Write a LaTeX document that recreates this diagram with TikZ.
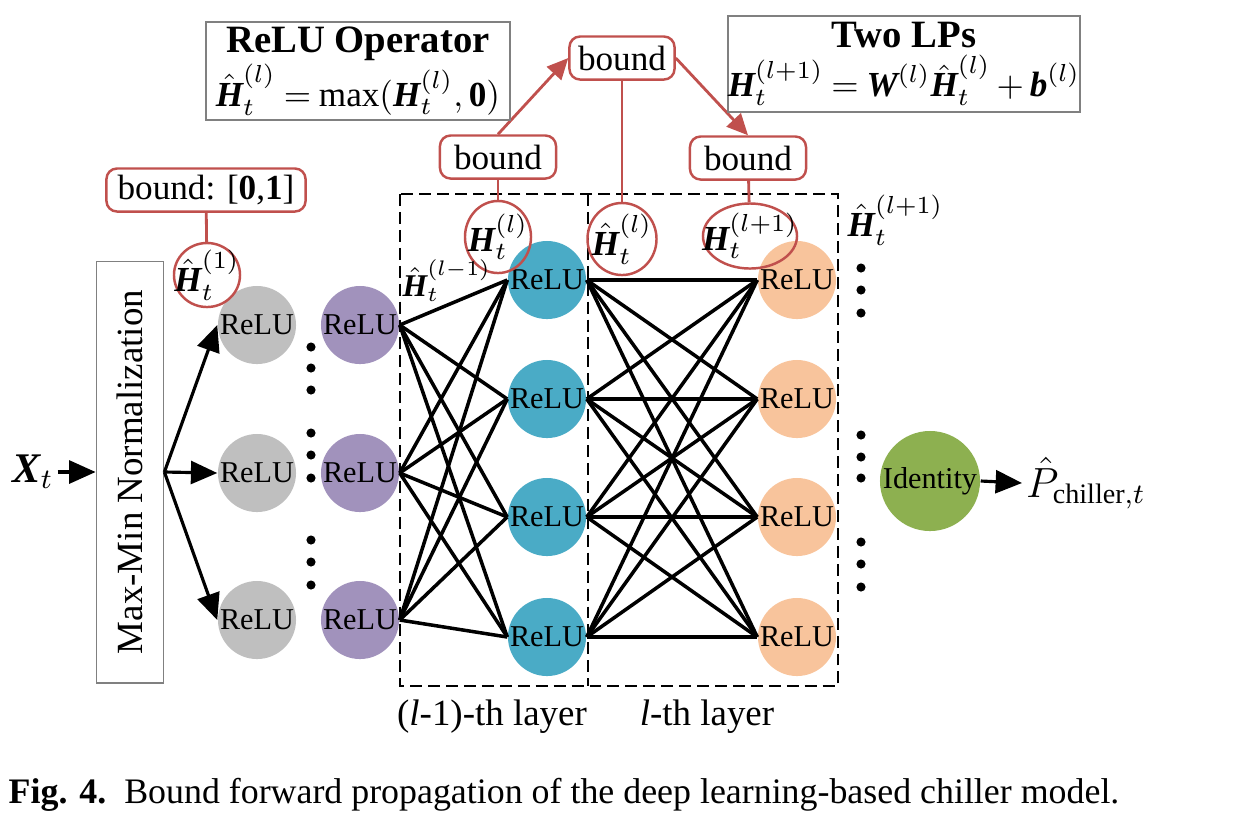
\documentclass[tikz,border=0pt]{standalone}
\usepackage{amsmath}
\usepackage[no-math]{fontspec}
\setmainfont{Liberation Serif}
\usetikzlibrary{arrows.meta,shapes.geometric}

\definecolor{boundred}{RGB}{192,80,77}
\definecolor{boxgray}{RGB}{128,128,128}
\definecolor{inGray}{RGB}{191,191,191}
\definecolor{inPurple}{RGB}{161,146,188}
\definecolor{hidTeal}{RGB}{74,171,198}
\definecolor{hidOrange}{RGB}{248,196,156}
\definecolor{outGreen}{RGB}{141,176,80}

% bold italic letters in the text font
\newcommand{\bv}[1]{\text{\normalfont\bfseries\itshape #1}}
\newcommand{\hH}{\hat{\bv{H}}}
\newcommand{\eqsize}{\fontsize{10}{12}\selectfont\thickmuskip=4mu \medmuskip=3mu }

\begin{document}
\begin{tikzpicture}[x=0.01cm,y=-0.01cm,
  neuron/.style={circle,minimum size=0.78cm,inner sep=0pt},
  relu/.style={neuron,label={[font=\fontsize{8.6}{10}\selectfont]center:ReLU}},
  ring/.style={ellipse,draw=boundred,line width=0.7pt,inner sep=0pt},
  ringtext/.style={font=\fontsize{10}{12}\selectfont,inner sep=0pt},
  boundbox/.style={draw=boundred,line width=0.7pt,rounded corners=3pt,
    inner sep=0pt,minimum height=0.43cm,font=\fontsize{10}{12}\selectfont},
  opbox/.style={draw=boxgray,line width=0.6pt,align=center,inner sep=0pt,
    font=\fontsize{11}{14}\selectfont},
  layerbox/.style={dash pattern=on 3.4pt off 1.7pt,line width=0.6pt},
  edge/.style={line width=1pt},
  blackarrow/.style={line width=0.9pt,-{Triangle[length=7.5pt,width=6.5pt]}},
  redarrow/.style={draw=boundred,line width=0.8pt,-{Triangle[length=6pt,width=5.5pt]}},
  redline/.style={draw=boundred,line width=0.8pt}]

\useasboundingbox (0,0) rectangle (1251,838);

% layer frames
\draw[layerbox] (400,194) rectangle (838,686);
\draw[layerbox] (588,194) -- (588,686);

% input and normalization
\node (xt) [inner sep=1pt] at (33,472) {\fontsize{12}{14}\selectfont$\bv{X}_t$};
\node (mm) [draw=boxgray,line width=0.5pt,minimum width=4.21cm,minimum height=0.67cm,
  rotate=90,inner sep=0pt,font=\fontsize{10.5}{12}\selectfont] at (130,472)
  {Max-Min Normalization};

% neurons
\node (g1) [relu,fill=inGray] at (257,325) {};
\node (g2) [relu,fill=inGray] at (257,473) {};
\node (g3) [relu,fill=inGray] at (257,620) {};
\node (p1) [relu,fill=inPurple] at (360,325) {};
\node (p2) [relu,fill=inPurple] at (360,473) {};
\node (p3) [relu,fill=inPurple] at (360,620) {};
\node (c1) [relu,fill=hidTeal] at (547,280) {};
\node (c2) [relu,fill=hidTeal] at (547,399) {};
\node (c3) [relu,fill=hidTeal] at (547,517) {};
\node (c4) [relu,fill=hidTeal] at (547,637) {};
\node (o1) [relu,fill=hidOrange] at (797,280) {};
\node (o2) [relu,fill=hidOrange] at (797,399) {};
\node (o3) [relu,fill=hidOrange] at (797,517) {};
\node (o4) [relu,fill=hidOrange] at (797,637) {};
\node (id) [neuron,fill=outGreen,minimum size=1cm,
  label={[font=\fontsize{8.6}{10}\selectfont]center:Identity}] at (930,481) {};
\node (ph) [anchor=west,inner sep=1pt] at (1022,483)
  {\fontsize{12}{14}\selectfont$\hat{P}_{\text{chiller},t}$};

% connections
\draw[blackarrow] (xt.east) -- (mm.north);
\foreach \i in {1,2,3}
  \draw[blackarrow] (mm.south) -- (g\i.west);
\foreach \i in {1,2,3}
  \foreach \j in {1,...,4}
    \draw[edge] (p\i.east) -- (c\j.west);
\foreach \i in {1,...,4}
  \foreach \j in {1,...,4}
    \draw[edge] (c\i.east) -- (o\j.west);
\draw[blackarrow] (id.east) -- (ph.west);

% dots
\foreach \x/\y in {311/347,311/368,311/390,311/433,311/455,311/478,
  311/540,311/562,311/585,861/268,861/290,861/313,861/435,861/457,
  861/478,861/542,861/564,861/587}
  \fill (\x,\y) circle (1.3pt);

% bound rings
\node (h1) [ring,minimum width=0.66cm,minimum height=0.64cm,
  label={[ringtext]center:$\hH_t^{(1)}$}] at (207,275) {};
\node (hl) [ring,minimum width=0.66cm,minimum height=0.72cm,
  label={[ringtext]center:$\bv{H}_t^{(l)}$}] at (498,237) {};
\node (hhl) [ring,minimum width=0.69cm,minimum height=0.72cm,
  label={[ringtext]center:$\hH_t^{(l)}$}] at (622,239) {};
\node (hlp) [ring,minimum width=0.94cm,minimum height=0.65cm,
  label={[ringtext]center:$\bv{H}_t^{(l{+}1)}$}] at (750,236) {};
\node (hlm) [ringtext,anchor=west,font=\fontsize{9}{11}\selectfont] at (402,281)
  {$\hH_t^{(l{-}1)}$};
\node (hlpp) [ringtext,anchor=west] at (847,220) {$\hH_t^{(l{+}1)}$};

% bound boxes
\node (b01) [boundbox,minimum width=1.99cm] at (206,190)
  {bound: [\textbf{0},\textbf{1}]};
\node (bl) [boundbox,minimum width=1.16cm] at (498,157) {bound};
\node (bt) [boundbox,minimum width=1.05cm] at (622,58) {bound};
\node (br) [boundbox,minimum width=1.16cm] at (748,158) {bound};
\draw[redline] (b01) -- (h1);
\draw[redline] (bl) -- (hl);
\draw[redline] (bt) -- (hhl);
\draw[redline] (br) -- (hlp);
\draw[redarrow] (bl.north) -- (bt.west);
\draw[redarrow] (bt.east) -- (br.north);

% operator boxes
\node (relubox) [opbox,minimum width=3.03cm,minimum height=0.98cm] at (358,71)
  {\textbf{ReLU Operator}\\
   {\eqsize$\hH_t^{(l)}=\text{max}(\bv{H}_t^{(l)},\text{\bfseries 0})$}};
\node (lpbox) [opbox,minimum width=3.37cm,minimum height=0.96cm] at (904,64)
  {\textbf{Two LPs}\\
   {\eqsize$\bv{H}_t^{(l{+}1)}=\bv{W}^{(l)}\hH_t^{(l)}+\bv{b}^{(l)}$}};

% labels
\node (lm) at (492,717) {\fontsize{10.5}{12}\selectfont(\textit{l}-1)-th layer};
\node (lc) at (707,717) {\fontsize{10.5}{12}\selectfont\textit{l}-th layer};
\node (cap) [anchor=west,inner sep=0pt] at (8,795)
  {\fontsize{10.2}{12}\selectfont\textbf{Fig. 4.}\ \ Bound forward propagation
   of the deep learning-based chiller model.};
\end{tikzpicture}
\end{document}
